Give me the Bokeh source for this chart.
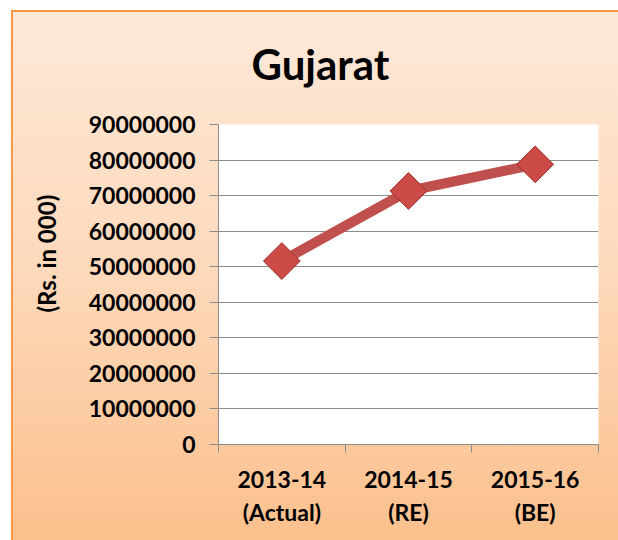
import numpy as np
from bokeh.plotting import figure
from bokeh.models import Range1d, FixedTicker, NumeralTickFormatter, Title
from bokeh.embed import file_html
from bokeh.resources import INLINE

title_text = "Gujarat"
y_title = "(Rs. in 000)"
categories = ["2013-14\n(Actual)", "2014-15\n(RE)", "2015-16\n(BE)"]
values = [51600000, 71300000, 78800000]
y_ticks = [0, 10000000, 20000000, 30000000, 40000000, 50000000,
           60000000, 70000000, 80000000, 90000000]

FONT = "Lato"
GRAY = "#8c8c8c"
xs = np.arange(len(categories)) + 0.5

p = figure(width=618, height=540, output_backend="svg", toolbar_location=None,
           x_range=Range1d(0, len(categories)), y_range=Range1d(0, 90000000),
           min_border_left=218, min_border_right=20, min_border_top=124,
           min_border_bottom=96)

p.border_fill_color = None
p.background_fill_color = "white"
p.outline_line_color = None
p.styles = {
    "background": (
        "linear-gradient(#f79646,#f79646) 11px 10px/2px 100% no-repeat,"
        "linear-gradient(#f79646,#f79646) 11px 10px/100% 2px no-repeat,"
        "linear-gradient(#ffffff,#ffffff) 0 0/11px 100% no-repeat,"
        "linear-gradient(#ffffff,#ffffff) 0 0/100% 10px no-repeat,"
        "linear-gradient(to bottom, #fde9da 0%, #fdd9bb 50%, #fbc08d 100%)"
    )
}

t = Title(text=title_text, align="left", offset=33, text_font=FONT,
          text_font_size="42px", text_font_style="bold", text_color="black",
          standoff=72)
p.add_layout(t, "above")

yt = Title(text=y_title, align="left", offset=132, text_font=FONT,
           text_font_size="24px", text_font_style="bold", text_color="black",
           standoff=50)
p.add_layout(yt, "left")

# Y axis
ya = p.yaxis[0]
ya.ticker = FixedTicker(ticks=y_ticks, minor_ticks=[])
ya.formatter = NumeralTickFormatter(format="0")
ya.major_label_text_font = FONT
ya.major_label_text_font_size = "23px"
ya.major_label_text_font_style = "bold"
ya.major_label_text_color = "black"
ya.major_label_standoff = 14
ya.major_tick_in = 0
ya.major_tick_out = 9
ya.major_tick_line_color = GRAY
ya.axis_line_color = GRAY

# X axis: labels at category centres, ticks at category boundaries
xa = p.xaxis[0]
xa.ticker = FixedTicker(ticks=list(xs), minor_ticks=list(range(len(categories) + 1)))
xa.major_label_overrides = {float(x): c for x, c in zip(xs, categories)}
xa.major_tick_line_color = None
xa.major_tick_in = 0
xa.major_tick_out = 0
xa.minor_tick_in = 0
xa.minor_tick_out = 8
xa.minor_tick_line_color = GRAY
xa.axis_line_color = GRAY
xa.major_label_text_font = FONT
xa.major_label_text_font_size = "23px"
xa.major_label_text_font_style = "bold"
xa.major_label_text_color = "black"
xa.major_label_standoff = 12

p.xgrid.grid_line_color = None
p.ygrid.ticker = FixedTicker(ticks=y_ticks)
p.ygrid.grid_line_color = GRAY
p.ygrid.grid_line_width = 1

p.line(xs, values, line_color="#c0504d", line_width=10)
p.scatter(xs, values, marker="square", size=26, angle=np.pi / 4,
          fill_color="#cc4b47", line_color="#9e2f2c", line_width=1)

open("out.html", "w").write(file_html(p, INLINE))
